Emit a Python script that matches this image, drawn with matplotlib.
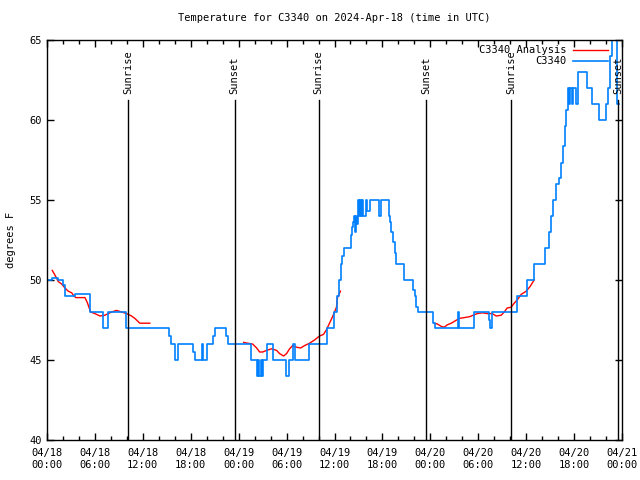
import matplotlib
matplotlib.use("Agg")
import matplotlib.pyplot as plt

# hours since 2024-04-18 00:00 UTC
obs_hours = [0, 0.625, 1.375, 2, 2.25, 3.5, 5.375, 7, 7.625, 9.875, 15.25, 15.5, 16, 16.375,
             18.25, 18.5, 19.375, 19.5, 20, 20.75, 21, 22.375, 22.625, 25.5, 26.25, 26.375,
             26.5, 26.75, 26.875, 27, 27.5, 28.25, 29.875, 30.25, 30.75, 31, 32.75, 35,
             35.875, 36.375, 36.625, 36.875, 37, 37.25, 38.125, 38.25, 38.375, 38.5, 38.625,
             38.75, 38.875, 39, 39.125, 39.25, 39.375, 39.5, 39.625, 39.875, 40, 40.125,
             40.375, 40.5, 41.625, 41.875, 42.875, 43, 43.125, 43.375, 43.625, 43.75, 44.75,
             45.875, 46.125, 46.25, 46.5, 48.375, 48.625, 51.5, 51.625, 53.5, 55.375, 55.5,
             55.75, 58.875, 60.125, 61, 62.375, 62.875, 63.125, 63.375, 63.75, 64.125,
             64.375, 64.625, 64.875, 65, 65.25, 65.375, 65.5, 65.75, 65.875, 66.125, 66.25,
             66.5, 67.625, 68.25, 69.125, 70, 70.25, 70.5, 70.75, 71.375, 71.625]
obs_temp = [50, 50.1, 50, 49.7, 49, 49.1, 48, 47, 48, 47, 46.5, 46, 45, 46,
            45.5, 45, 46, 45, 46, 46.5, 47, 46.5, 46, 45, 44, 45,
            44, 45, 44, 45, 46, 45, 44, 45, 46, 45, 46, 47,
            48, 49, 50, 51, 51.5, 52, 52.8, 53.3, 53.6, 54, 53,
            54, 53.5, 55, 54, 55, 54, 55, 54, 54, 55, 54.3,
            54.3, 55, 54, 55, 54, 53.6, 53, 52.4, 51.7, 51, 50,
            49.4, 49, 48.3, 48, 47.3, 47, 48, 47, 48, 47.5, 47,
            48, 49, 50, 51, 52, 53, 54, 55, 56, 56.4,
            57.3, 58.4, 59.6, 60.6, 62, 61, 62, 61, 62, 62, 61,
            63, 62, 61, 60, 61, 62, 64, 66, 61, 61]

an1_hours = [0.66, 1, 1.41, 1.84, 2.25, 2.66, 3.09, 3.375, 3.625, 4.75, 5.04, 5.46, 6, 6.625,
             7.25, 8.09, 8.71, 9.34, 9.96, 10.59, 11, 11.625, 12.875]
an1_temp = [50.6, 50.3, 49.9, 49.75, 49.5, 49.3, 49.2, 49.0, 48.9, 48.9, 48.6, 48.0, 47.9, 47.75,
            47.8, 48.0, 48.1, 48.0, 47.9, 47.75, 47.6, 47.3, 47.3]
an2_hours = [24.625, 25.125, 25.75, 26.25, 26.625, 27, 27.5, 28.125, 28.75, 29.125, 29.625, 30,
             30.375, 30.75, 31.25, 31.75, 32.25, 32.875, 33.5, 34.125, 34.625, 35, 35.375,
             35.75, 36.25, 36.375, 36.75]
an2_temp = [46.1, 46.05, 46.0, 45.75, 45.5, 45.5, 45.6, 45.7, 45.6, 45.4, 45.25, 45.4, 45.7,
            45.9, 45.8, 45.75, 45.9, 46.05, 46.25, 46.5, 46.6, 46.9, 47.3, 47.7, 48.3, 48.9, 49.3]
an3_hours = [48.5, 48.875, 49.375, 49.75, 50.125, 50.625, 51.125, 51.625, 52.25, 52.875, 53.375,
             53.875, 54.5, 55.125, 55.75, 56.25, 56.875, 57.25, 57.625, 58.125, 58.5, 58.875,
             59.375, 60, 60.5, 61]
an3_temp = [47.3, 47.25, 47.1, 47.05, 47.2, 47.3, 47.45, 47.6, 47.65, 47.7, 47.8, 47.9, 47.95,
            47.9, 47.9, 47.75, 47.8, 48.0, 48.25, 48.3, 48.55, 48.75, 49.1, 49.3, 49.6, 50.0]

sun_hours = [10.125, 23.5, 34, 47.5, 58.125, 71.5]
sun_labels = ["Sunrise", "Sunset", "Sunrise", "Sunset", "Sunrise", "Sunset"]

tick_hours = list(range(0, 73, 6))
tick_labels = ["04/18\n00:00", "04/18\n06:00", "04/18\n12:00", "04/18\n18:00",
               "04/19\n00:00", "04/19\n06:00", "04/19\n12:00", "04/19\n18:00",
               "04/20\n00:00", "04/20\n06:00", "04/20\n12:00", "04/20\n18:00",
               "04/21\n00:00"]

plt.rcParams["font.family"] = ["DejaVu Sans Mono"]
plt.rcParams["font.size"] = 7

fig = plt.figure(figsize=(6.4, 4.8), dpi=100)
ax = fig.add_axes([47 / 640, 40 / 480, 575 / 640, 400 / 480])

red = "#ff0000"
blue = "#0080ff"
ax.plot(an1_hours, an1_temp, color=red, lw=1, label="C3340 Analysis")
ax.plot(an2_hours, an2_temp, color=red, lw=1)
ax.plot(an3_hours, an3_temp, color=red, lw=1)
ax.plot(obs_hours, obs_temp, color=blue, lw=1.2, drawstyle="steps-post", label="C3340")

for h, lab in zip(sun_hours, sun_labels):
    ax.plot([h, h], [40, 61.25], color="black", lw=1)
    ax.text(h, 61.6, lab, rotation=90, ha="center", va="bottom", fontsize=7.5)

ax.set_xlim(0, 72)
ax.set_ylim(40, 65)
ax.set_xticks(tick_hours)
ax.set_xticklabels(tick_labels)
ax.set_xticks(range(0, 73, 2), minor=True)
ax.set_yticks(range(40, 66, 5))
ax.tick_params(direction="in", top=True, right=True, length=5, width=1, labelsize=7.5)
ax.tick_params(which="minor", direction="in", top=True, right=True, length=3, width=1)
ax.tick_params(axis="x", pad=6)
for s in ax.spines.values():
    s.set_linewidth(1)

ax.set_ylabel("degrees F", fontsize=7.5, labelpad=10)
ax.set_title("Temperature for C3340 on 2024-Apr-18 (time in UTC)", fontsize=7.5, pad=14)

ax.legend(loc="upper right", frameon=False, markerfirst=False, handlelength=3.4,
          fontsize=7.5, borderaxespad=0.1, labelspacing=0.1, handletextpad=0.6,
          bbox_to_anchor=(0.985, 1.0))

fig.savefig("out.png", dpi=100)
